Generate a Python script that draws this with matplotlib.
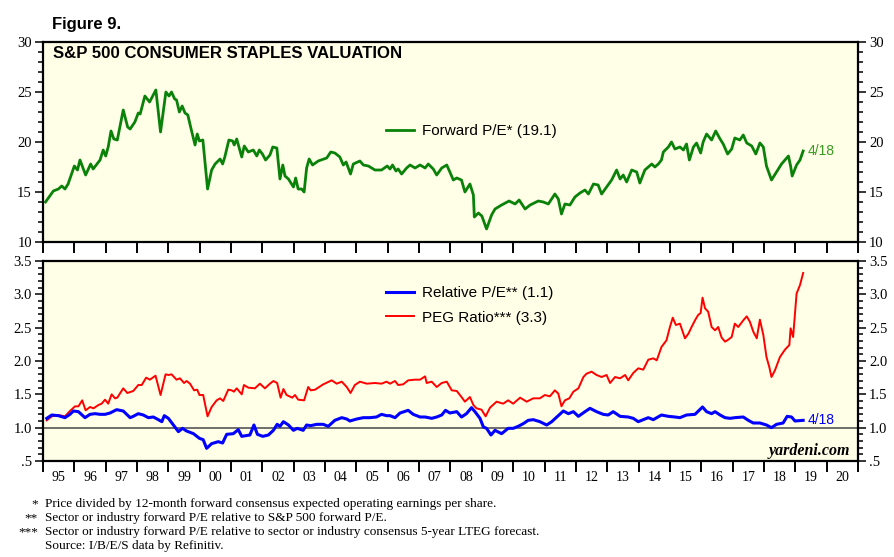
import matplotlib
matplotlib.use("Agg")
import matplotlib.pyplot as plt
from matplotlib.ticker import FixedLocator, MultipleLocator, FuncFormatter

# ---- data (decimal years) ----
pe_dates = [1995.08, 1995.33, 1995.49, 1995.60, 1995.70, 1995.80, 1996.00, 1996.10, 1996.18, 1996.36,
            1996.52, 1996.60, 1996.82, 1996.92, 1997.00, 1997.08, 1997.17, 1997.26, 1997.37, 1997.56,
            1997.70, 1997.78, 1997.93, 1998.04, 1998.10, 1998.25, 1998.40, 1998.60, 1998.75, 1998.92,
            1999.02, 1999.10, 1999.20, 1999.26, 1999.35, 1999.44, 1999.53, 1999.62, 1999.71, 1999.85,
            1999.92, 1999.99, 2000.10, 2000.25, 2000.38, 2000.49, 2000.65, 2000.73, 2000.80, 2000.93,
            2001.05, 2001.10, 2001.18, 2001.34, 2001.42, 2001.55, 2001.71, 2001.82, 2001.90, 2002.00,
            2002.10, 2002.24, 2002.33, 2002.46, 2002.56, 2002.65, 2002.72, 2002.83, 2002.99, 2003.06,
            2003.14, 2003.25, 2003.33, 2003.41, 2003.49, 2003.60, 2003.78, 2004.05, 2004.18, 2004.31,
            2004.47, 2004.58, 2004.67, 2004.81, 2004.90, 2005.11, 2005.22, 2005.38, 2005.59, 2005.80,
            2005.98, 2006.07, 2006.15, 2006.26, 2006.33, 2006.44, 2006.60, 2006.71, 2006.87, 2007.03,
            2007.19, 2007.29, 2007.45, 2007.56, 2007.72, 2007.88, 2007.98, 2008.09, 2008.20, 2008.35,
            2008.46, 2008.62, 2008.73, 2008.76, 2008.89, 2009.00, 2009.15, 2009.31, 2009.42, 2009.63,
            2009.87, 2010.06, 2010.19, 2010.38, 2010.54, 2010.80, 2010.96, 2011.12, 2011.33, 2011.44,
            2011.54, 2011.65, 2011.81, 2011.97, 2012.13, 2012.29, 2012.40, 2012.56, 2012.71, 2012.82,
            2012.98, 2013.14, 2013.30, 2013.41, 2013.51, 2013.62, 2013.78, 2013.94, 2014.04, 2014.20,
            2014.42, 2014.52, 2014.63, 2014.73, 2014.79, 2014.95, 2015.05, 2015.16, 2015.32, 2015.43,
            2015.53, 2015.62, 2015.75, 2015.85, 2015.98, 2016.06, 2016.17, 2016.33, 2016.46, 2016.60,
            2016.70, 2016.84, 2016.97, 2017.07, 2017.23, 2017.34, 2017.45, 2017.61, 2017.74, 2017.87,
            2017.98, 2018.08, 2018.24, 2018.40, 2018.56, 2018.67, 2018.78, 2018.85, 2018.90, 2019.04,
            2019.15, 2019.25]
pe_vals = [14.0, 15.1, 15.3, 15.6, 15.3, 15.8, 17.6, 17.2, 18.2, 16.7,
           17.8, 17.3, 18.2, 19.2, 18.6, 19.5, 21.1, 20.3, 20.2, 23.2,
           21.5, 21.3, 22.0, 22.9, 22.8, 24.6, 24.0, 25.2, 21.0, 25.0,
           24.6, 25.0, 24.3, 24.2, 23.0, 23.6, 22.9, 22.7, 21.5, 19.7,
           20.8, 20.1, 20.2, 15.3, 17.2, 17.8, 18.3, 17.8, 18.5, 20.2,
           20.1, 19.7, 20.3, 18.5, 19.6, 19.0, 19.2, 18.6, 19.2, 18.8,
           18.2, 18.7, 19.5, 19.4, 16.3, 17.7, 16.6, 16.3, 15.5, 16.4,
           15.3, 15.3, 15.0, 17.4, 18.3, 17.7, 18.1, 18.4, 19.0, 18.9,
           18.5, 17.7, 18.0, 16.8, 17.8, 18.1, 17.7, 17.6, 17.2, 17.2,
           17.6, 17.3, 17.7, 17.1, 17.3, 16.8, 17.4, 17.7, 17.4, 17.7,
           17.4, 17.8, 17.3, 16.7, 17.4, 17.7, 17.0, 16.2, 16.4, 16.2,
           15.0, 15.8, 14.7, 12.5, 12.9, 12.6, 11.3, 12.7, 13.3, 13.7,
           14.1, 13.8, 14.2, 13.3, 13.7, 14.1, 14.0, 13.8, 14.8, 14.3,
           12.8, 13.8, 13.7, 14.5, 14.9, 15.2, 14.8, 15.8, 15.7, 14.8,
           15.5, 16.2, 17.2, 16.3, 16.7, 16.0, 17.2, 17.0, 15.9, 17.2,
           17.8, 17.5, 17.8, 18.2, 19.0, 19.5, 20.0, 19.3, 19.5, 19.2,
           19.8, 18.2, 19.5, 19.9, 18.9, 20.0, 20.8, 20.2, 21.1, 20.3,
           19.8, 18.8, 19.3, 20.4, 20.2, 20.7, 19.9, 19.6, 18.8, 19.9,
           19.5, 17.6, 16.2, 17.0, 17.8, 18.2, 18.6, 17.6, 16.6, 17.7,
           18.2, 19.1]

rel_dates = [1995.12, 1995.28, 1995.49, 1995.70, 1995.86, 1995.97, 1996.13, 1996.34, 1996.50, 1996.66,
             1996.82, 1996.98, 1997.14, 1997.35, 1997.56, 1997.78, 1997.88, 1998.04, 1998.20, 1998.36,
             1998.52, 1998.68, 1998.79, 1998.87, 1999.00, 1999.16, 1999.32, 1999.45, 1999.58, 1999.80,
             1999.99, 2000.11, 2000.22, 2000.38, 2000.59, 2000.73, 2000.86, 2001.07, 2001.23, 2001.34,
             2001.60, 2001.73, 2001.84, 2002.01, 2002.19, 2002.35, 2002.47, 2002.56, 2002.67, 2002.83,
             2002.99, 2003.11, 2003.30, 2003.41, 2003.54, 2003.73, 2003.94, 2004.10, 2004.31, 2004.53,
             2004.69, 2004.79, 2005.01, 2005.22, 2005.43, 2005.64, 2005.80, 2005.96, 2006.07, 2006.23,
             2006.39, 2006.65, 2006.81, 2007.03, 2007.19, 2007.40, 2007.56, 2007.72, 2007.84, 2007.98,
             2008.20, 2008.35, 2008.51, 2008.67, 2008.78, 2008.94, 2009.05, 2009.15, 2009.29, 2009.42,
             2009.63, 2009.84, 2010.00, 2010.16, 2010.32, 2010.48, 2010.64, 2010.85, 2011.07, 2011.23,
             2011.39, 2011.60, 2011.76, 2011.92, 2012.08, 2012.29, 2012.45, 2012.66, 2012.87, 2013.03,
             2013.19, 2013.41, 2013.67, 2013.83, 2013.99, 2014.15, 2014.31, 2014.47, 2014.73, 2014.95,
             2015.16, 2015.32, 2015.53, 2015.80, 2016.04, 2016.17, 2016.33, 2016.44, 2016.60, 2016.76,
             2016.92, 2017.07, 2017.34, 2017.50, 2017.66, 2017.87, 2018.08, 2018.24, 2018.40, 2018.61,
             2018.74, 2018.88, 2018.99, 2019.25]
rel_vals = [1.14, 1.19, 1.18, 1.15, 1.20, 1.25, 1.24, 1.15, 1.20, 1.21,
            1.20, 1.20, 1.22, 1.27, 1.25, 1.15, 1.17, 1.21, 1.19, 1.15,
            1.16, 1.12, 1.09, 1.18, 1.14, 1.04, 0.94, 0.99, 0.95, 0.91,
            0.84, 0.82, 0.69, 0.76, 0.79, 0.77, 0.90, 0.91, 0.97, 0.87,
            0.89, 1.04, 0.90, 0.87, 0.89, 0.96, 1.05, 1.02, 1.09, 1.04,
            0.96, 0.99, 0.96, 1.04, 1.03, 1.05, 1.05, 1.02, 1.11, 1.15,
            1.13, 1.10, 1.13, 1.15, 1.15, 1.16, 1.20, 1.18, 1.18, 1.15,
            1.22, 1.26, 1.20, 1.16, 1.16, 1.14, 1.16, 1.19, 1.26, 1.22,
            1.24, 1.16, 1.21, 1.30, 1.24, 1.14, 1.01, 0.99, 0.89, 0.96,
            0.91, 0.99, 0.99, 1.02, 1.06, 1.11, 1.12, 1.09, 1.04, 1.09,
            1.16, 1.25, 1.21, 1.24, 1.17, 1.24, 1.29, 1.24, 1.20, 1.19,
            1.24, 1.17, 1.16, 1.14, 1.09, 1.12, 1.15, 1.12, 1.19, 1.17,
            1.16, 1.15, 1.19, 1.20, 1.31, 1.24, 1.21, 1.24, 1.19, 1.15,
            1.14, 1.15, 1.16, 1.11, 1.07, 1.07, 1.04, 1.00, 1.05, 1.07,
            1.17, 1.16, 1.10, 1.11]

peg_dates = [1995.12, 1995.28, 1995.49, 1995.70, 1995.86, 1996.02, 1996.13, 1996.25, 1996.36, 1996.50,
             1996.61, 1996.77, 1996.87, 1996.98, 1997.08, 1997.19, 1997.30, 1997.37, 1997.56, 1997.69,
             1997.88, 1998.04, 1998.15, 1998.29, 1998.41, 1998.59, 1998.75, 1998.91, 1999.00, 1999.10,
             1999.26, 1999.37, 1999.50, 1999.58, 1999.69, 1999.82, 1999.92, 1999.99, 2000.11, 2000.25,
             2000.38, 2000.54, 2000.65, 2000.75, 2000.91, 2001.02, 2001.09, 2001.18, 2001.34, 2001.41,
             2001.55, 2001.76, 2001.92, 2002.08, 2002.24, 2002.35, 2002.47, 2002.58, 2002.67, 2002.77,
             2002.95, 2003.04, 2003.14, 2003.33, 2003.46, 2003.54, 2003.68, 2003.94, 2004.21, 2004.37,
             2004.53, 2004.69, 2004.81, 2004.95, 2005.11, 2005.33, 2005.59, 2005.80, 2005.96, 2006.07,
             2006.23, 2006.33, 2006.49, 2006.65, 2006.87, 2007.03, 2007.19, 2007.24, 2007.40, 2007.56,
             2007.72, 2007.88, 2008.04, 2008.20, 2008.35, 2008.46, 2008.62, 2008.73, 2008.83, 2008.99,
             2009.12, 2009.26, 2009.47, 2009.68, 2009.84, 2010.00, 2010.22, 2010.43, 2010.64, 2010.85,
             2011.01, 2011.17, 2011.33, 2011.44, 2011.54, 2011.65, 2011.79, 2011.92, 2012.08, 2012.24,
             2012.34, 2012.50, 2012.66, 2012.82, 2012.98, 2013.09, 2013.25, 2013.41, 2013.57, 2013.67,
             2013.83, 2013.99, 2014.15, 2014.31, 2014.47, 2014.58, 2014.73, 2014.89, 2015.00, 2015.09,
             2015.19, 2015.32, 2015.48, 2015.59, 2015.69, 2015.80, 2015.90, 2015.98, 2016.04, 2016.12,
             2016.22, 2016.33, 2016.44, 2016.54, 2016.65, 2016.76, 2016.86, 2016.97, 2017.07, 2017.18,
             2017.34, 2017.45, 2017.55, 2017.66, 2017.77, 2017.87, 2017.98, 2018.08, 2018.17, 2018.24,
             2018.35, 2018.51, 2018.67, 2018.81, 2018.85, 2018.93, 2019.04, 2019.15, 2019.25]
peg_vals = [1.11, 1.17, 1.19, 1.17, 1.25, 1.32, 1.32, 1.41, 1.26, 1.31,
            1.29, 1.34, 1.36, 1.42, 1.36, 1.50, 1.44, 1.45, 1.59, 1.52,
            1.55, 1.64, 1.64, 1.75, 1.72, 1.78, 1.49, 1.80, 1.79, 1.80,
            1.72, 1.74, 1.67, 1.70, 1.66, 1.56, 1.57, 1.49, 1.49, 1.17,
            1.31, 1.41, 1.44, 1.40, 1.57, 1.56, 1.54, 1.59, 1.50, 1.64,
            1.60, 1.59, 1.66, 1.59, 1.66, 1.70, 1.67, 1.45, 1.58, 1.49,
            1.45, 1.49, 1.42, 1.41, 1.61, 1.56, 1.57, 1.65, 1.71, 1.66,
            1.69, 1.61, 1.52, 1.64, 1.69, 1.66, 1.67, 1.66, 1.69, 1.66,
            1.70, 1.64, 1.65, 1.71, 1.72, 1.72, 1.77, 1.67, 1.69, 1.61,
            1.67, 1.69, 1.56, 1.55, 1.46, 1.39, 1.46, 1.34, 1.29, 1.27,
            1.17, 1.30, 1.39, 1.36, 1.41, 1.36, 1.45, 1.39, 1.44, 1.44,
            1.49, 1.47, 1.56, 1.51, 1.32, 1.41, 1.44, 1.54, 1.59, 1.76,
            1.81, 1.84, 1.79, 1.76, 1.79, 1.67, 1.76, 1.74, 1.79, 1.71,
            1.82, 1.89, 1.87, 2.02, 2.04, 2.01, 2.21, 2.31, 2.51, 2.65,
            2.54, 2.56, 2.34, 2.41, 2.51, 2.61, 2.69, 2.72, 2.95, 2.79,
            2.74, 2.51, 2.46, 2.51, 2.35, 2.29, 2.32, 2.36, 2.56, 2.51,
            2.61, 2.67, 2.59, 2.44, 2.34, 2.62, 2.39, 2.06, 1.91, 1.76,
            1.86, 2.06, 2.17, 2.24, 2.49, 2.36, 3.01, 3.14, 3.32]

years = list(range(1995, 2022))
year_labels = [f"{y % 100:02d}" for y in range(1995, 2021)]
footnotes = [
    ("*", "Price divided by 12-month forward consensus expected operating earnings per share."),
    ("**", "Sector or industry forward P/E relative to S&P 500 forward P/E."),
    ("***", "Sector or industry forward P/E relative to sector or industry consensus 5-year LTEG forecast."),
    ("", "Source: I/B/E/S data by Refinitiv."),
]

BG = "#fffee6"
GREEN = "#0a820a"
SERIF = "Liberation Serif"
SANS = "Liberation Sans"

W, H = 895, 557
fig = plt.figure(figsize=(W / 100, H / 100), dpi=100)


def px_rect(l, t, r, b):
    return [l / W, 1 - b / H, (r - l) / W, (b - t) / H]


ax1 = fig.add_axes(px_rect(43, 42, 858, 242))
ax2 = fig.add_axes(px_rect(43, 261, 858, 461))

for ax in (ax1, ax2):
    ax.set_facecolor(BG)
    ax.set_xlim(1995, 2021)
    for s in ax.spines.values():
        s.set_linewidth(1.6)
    ax.xaxis.set_major_locator(FixedLocator(years))
    ax.tick_params(axis="x", which="major", direction="out", length=8, width=1.4,
                   labelbottom=False)
    ax.tick_params(axis="y", which="both", direction="out", left=True, right=True,
                   labelleft=True, labelright=True, labelsize=10.5, width=1.1, pad=2)
    ax.tick_params(axis="y", which="major", length=6)
    ax.tick_params(axis="y", which="minor", length=3.5)

# top panel: forward P/E
ax1.set_ylim(10, 30)
ax1.yaxis.set_major_locator(MultipleLocator(5))
ax1.yaxis.set_minor_locator(MultipleLocator(1))
ax1.plot(pe_dates, pe_vals, color=GREEN, lw=2.0, label="Forward P/E* (19.1)")
ax1.text(0.012, 0.94, "S&P 500 CONSUMER STAPLES VALUATION", transform=ax1.transAxes,
         fontsize=12.1, fontweight="bold", family=SANS, va="center")
ax1.annotate("4/18", xy=(pe_dates[-1], pe_vals[-1]), xytext=(3, 0), textcoords="offset points",
             color="#3a9a22", fontsize=10, family=SANS, va="center")
ax1.legend(loc="center left", bbox_to_anchor=(0.421, 0.553), frameon=False,
           prop={"family": SANS, "size": 11}, handlelength=1.8, handletextpad=0.55,
           borderpad=0, borderaxespad=0)

# bottom panel: relative P/E and PEG
ax2.set_ylim(0.5, 3.5)
ax2.yaxis.set_major_locator(MultipleLocator(0.5))
ax2.yaxis.set_minor_locator(MultipleLocator(0.1))
ax2.yaxis.set_major_formatter(FuncFormatter(lambda v, p: f"{v:.1f}".lstrip("0")))
ax2.axhline(1.0, color="#555555", lw=1.2, zorder=1)
ax2.plot(rel_dates, rel_vals, color="#0000ff", lw=2.2, label="Relative P/E** (1.1)", zorder=3)
ax2.plot(peg_dates, peg_vals, color="#ff0000", lw=1.4, label="PEG Ratio*** (3.3)", zorder=2)
ax2.annotate("4/18", xy=(rel_dates[-1], rel_vals[-1]), xytext=(3, 0), textcoords="offset points",
             color="#0000ff", fontsize=10, family=SANS, va="center")
ax2.legend(loc="center left", bbox_to_anchor=(0.421, 0.779), frameon=False,
           prop={"family": SANS, "size": 11}, handlelength=1.8, handletextpad=0.55,
           labelspacing=0.7, borderpad=0, borderaxespad=0)
ax2.text(0.99, 0.05, "yardeni.com", transform=ax2.transAxes, ha="right", va="center",
         fontsize=11.5, fontweight="bold", fontstyle="italic", family=SERIF)
ax2.xaxis.set_minor_locator(FixedLocator([y + 0.5 for y in range(1995, 2021)]))
ax2.set_xticklabels(year_labels, minor=True)
ax2.tick_params(axis="x", which="minor", length=0, labelbottom=True, labelsize=10, pad=7)
for lab in ax2.get_xticklabels(minor=True):
    lab.set_fontfamily(SERIF)
for ax in (ax1, ax2):
    for lab in ax.get_yticklabels():
        lab.set_fontfamily(SERIF)

fig.text(52 / W, 1 - 25 / H, "Figure 9.", fontsize=12, fontweight="bold", family=SANS,
         va="center")
for i, (mark, note) in enumerate(footnotes):
    y = 1 - (504 + i * 14) / H
    fig.text(38 / W, y, mark, ha="right", va="center", fontsize=9.5, family=SERIF)
    fig.text(45 / W, y, note, ha="left", va="center", fontsize=9.5, family=SERIF)

fig.savefig("out.png", dpi=100)
